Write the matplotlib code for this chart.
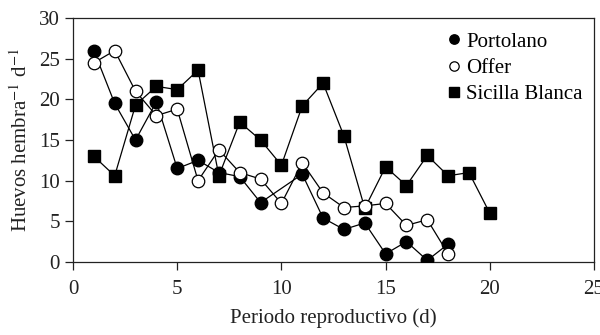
import matplotlib
matplotlib.use("Agg")
import matplotlib.pyplot as plt

plt.rcParams['font.family'] = ['Liberation Serif', 'DejaVu Serif']
plt.rcParams['mathtext.fontset'] = 'stix'

x_port = [1, 2, 3, 4, 5, 6, 7, 8, 9, 11, 12, 13, 14, 15, 16, 17, 18]
y_port = [26, 19.5, 15, 19.7, 11.5, 12.5, 11, 10.5, 7.3, 10.8, 5.4, 4.0, 4.8, 1.0, 2.5, 0.2, 2.2]

x_offer = [1, 2, 3, 4, 5, 6, 7, 8, 9, 10, 11, 12, 13, 14, 15, 16, 17, 18]
y_offer = [24.5, 26, 21, 18, 18.8, 10, 13.8, 11, 10.2, 7.2, 12.2, 8.5, 6.7, 6.9, 7.2, 4.5, 5.2, 1.0]

x_sic = [1, 2, 3, 4, 5, 6, 7, 8, 9, 10, 11, 12, 13, 14, 15, 16, 17, 18, 19, 20]
y_sic = [13, 10.6, 19.3, 21.6, 21.2, 23.6, 10.6, 17.2, 15, 11.9, 19.2, 22, 15.5, 6.6, 11.7, 9.4, 13.1, 10.6, 11, 6.0]

labels = ['Portolano', 'Offer', 'Sicilla Blanca']

fig = plt.figure(figsize=(6.0, 3.35), dpi=100)
ax = fig.add_axes([0.1217, 0.218, 0.8683, 0.728])

lw = 0.9
ax.plot(x_port, y_port, color='black', lw=lw, marker='o', ms=9,
        mfc='black', mec='black', label=labels[0], zorder=3)
ax.plot(x_offer, y_offer, color='black', lw=lw, marker='o', ms=9,
        mfc='white', mec='black', mew=0.9, label=labels[1], zorder=3)
ax.plot(x_sic, y_sic, color='black', lw=lw, marker='s', ms=9,
        mfc='black', mec='black', label=labels[2], zorder=2)

ax.set_xlim(0, 25)
ax.set_ylim(0, 30)
ax.set_xticks([0, 5, 10, 15, 20, 25])
ax.set_yticks([0, 5, 10, 15, 20, 25, 30])
ax.tick_params(direction='out', length=6, width=0.9, labelsize=15, colors='#222222')
ax.tick_params(axis='x', pad=7)
for s in ax.spines.values():
    s.set_linewidth(0.9)
    s.set_color('#222222')

ax.set_xlabel('Periodo reproductivo (d)', fontsize=15, labelpad=7, color='#222222')
ax.set_ylabel(r'Huevos hembra$^{-1}$ d$^{-1}$', fontsize=15, labelpad=5, color='#222222')

leg = ax.legend(loc='upper right', frameon=False, fontsize=15, handlelength=0.6,
                handletextpad=0.3, markerscale=0.75, borderaxespad=0.15,
                labelspacing=0.33, bbox_to_anchor=(1.0, 0.99))
for h in leg.legend_handles:
    h.set_linestyle('none')

fig.savefig('out.png', dpi=100)
